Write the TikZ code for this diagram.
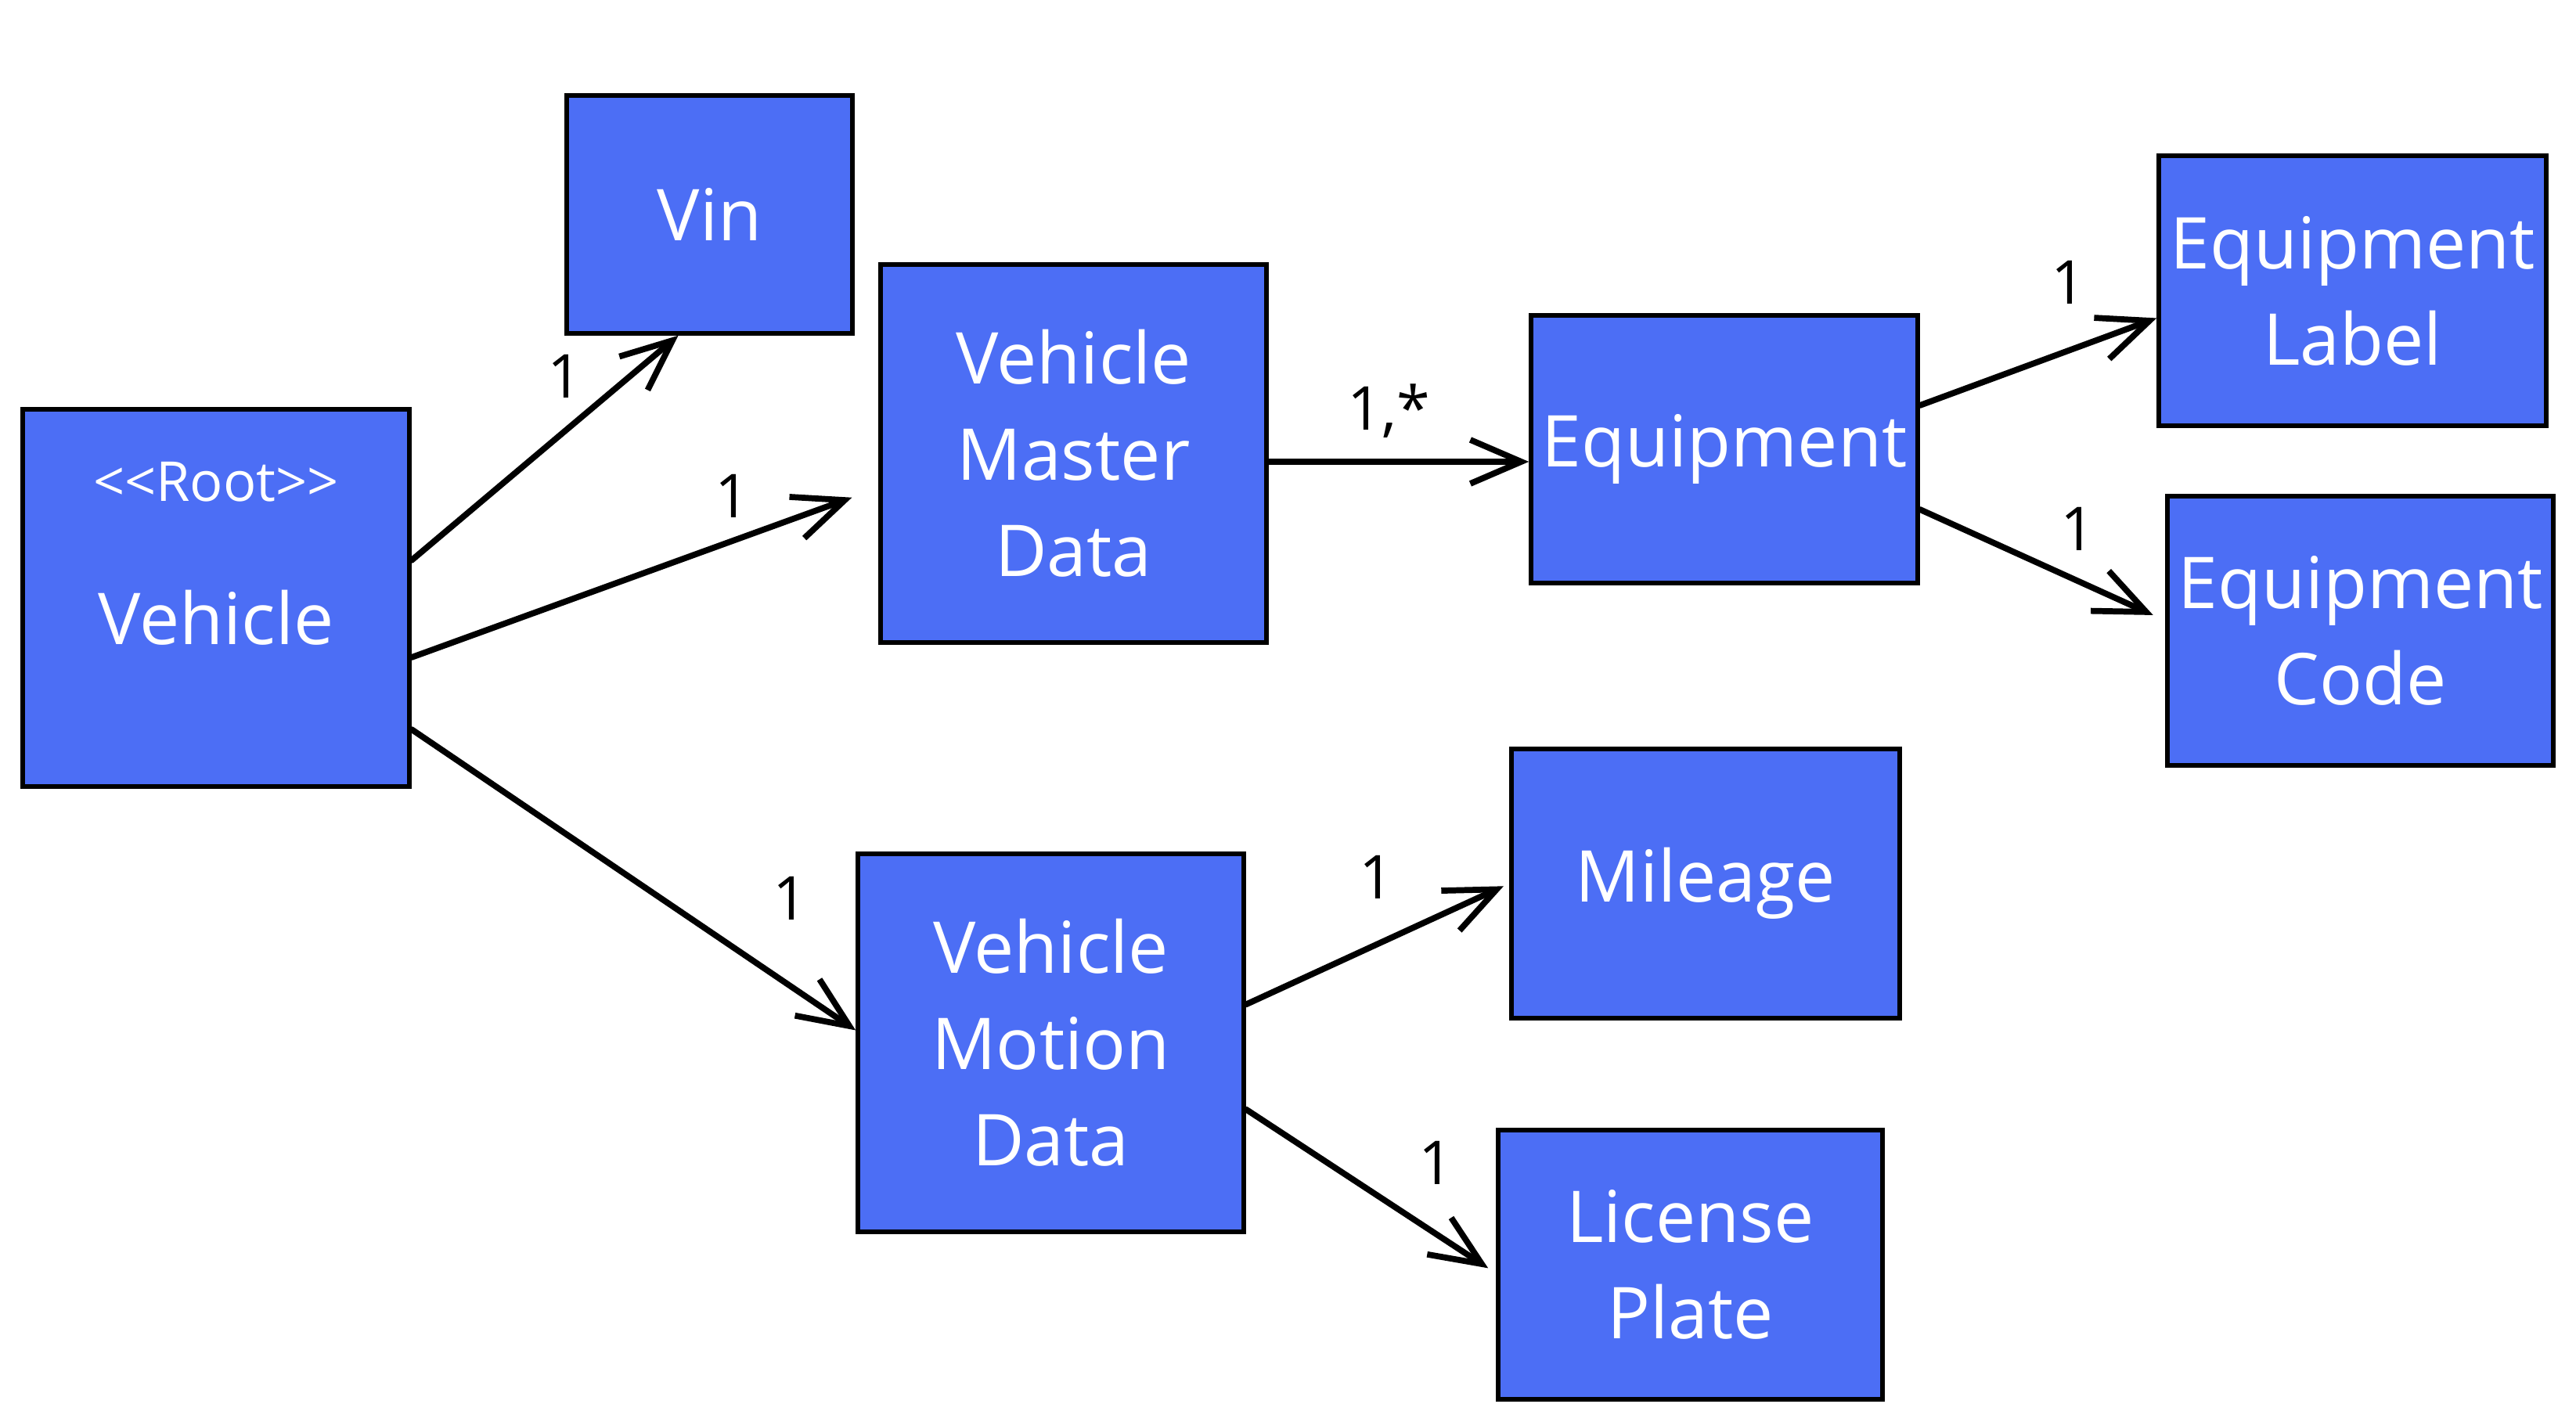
\documentclass[tikz,border=0pt]{standalone}
\usepackage{fontspec}
\setmainfont{Open Sans}
\usetikzlibrary{arrows.meta}
\definecolor{boxblue}{HTML}{4C6EF5}
\tikzset{
  box/.style={draw=black, line width=1.6pt, fill=boxblue, text=white, align=center,
    inner sep=0pt, font=\fontsize{26}{35}\selectfont},
  lbl/.style={font=\fontsize{22}{26}\selectfont, text=black},
  link/.style={->, line width=2.2pt, line cap=round, line join=round}
}

\begin{document}
\begin{tikzpicture}[>={Straight Barb[length=6.5mm,width=5.6mm,line width=2.2pt]}]
  \useasboundingbox (0,0) rectangle (32.91,18.17);
  % boxes
  \node[box, minimum width=4.94cm, minimum height=4.82cm] (vehicle) at (2.76,10.53)
    {{\fontsize{20}{24}\selectfont <\kern0pt<Root>\kern0pt>}\\[6mm]Vehicle\rule[-11.5mm]{0pt}{0pt}};
  \node[box, minimum width=3.65cm, minimum height=3.04cm] (vin) at (9.065,15.43) {Vin};
  \node[box, minimum width=4.93cm, minimum height=4.83cm] (master) at (13.715,12.375)
    {Vehicle\\Master\\Data};
  \node[box, minimum width=4.94cm, minimum height=3.42cm] (equip) at (22.03,12.43) {Equipment};
  \node[box, minimum width=4.95cm, minimum height=3.45cm] (eqlabel) at (30.055,14.455)
    {Equipment\\Label};
  \node[box, minimum width=4.93cm, minimum height=3.44cm] (eqcode) at (30.155,10.11)
    {Equipment\\Code};
  \node[box, minimum width=4.96cm, minimum height=3.44cm] (mileage) at (21.79,6.88) {Mileage};
  \node[box, minimum width=4.93cm, minimum height=4.83cm] (motion) at (13.425,4.845)
    {Vehicle\\Motion\\Data};
  \node[box, minimum width=4.91cm, minimum height=3.44cm] (plate) at (21.595,2.01)
    {License\\Plate};

  % connectors
  \draw[link] ([yshift=4.8mm]vehicle.east) -- ([xshift=-4mm]vin.south);
  \draw[link, shorten >=3.6mm] ([yshift=-7.6mm]vehicle.east) -- ([yshift=-4.4mm]master.west);
  \draw[link] ([yshift=-16.8mm]vehicle.east) -- ([yshift=1.6mm]motion.west);
  \draw[link] ([yshift=-1.6mm]equip.west -| master.east) -- ([yshift=-1.6mm]equip.west);
  \draw[link] ([yshift=5.6mm]equip.east) -- ([yshift=-3.5mm]eqlabel.west);
  \draw[link, shorten >=1.7mm] ([yshift=-7.7mm]equip.east) -- ([yshift=1.3mm]eqcode.west);
  \draw[link, shorten >=0.8mm] ([yshift=4.9mm]motion.east) -- (mileage.west);
  \draw[link, shorten >=1.2mm] ([yshift=-8.5mm]motion.east) -- ([yshift=-1.1mm]plate.west);

  % multiplicities
  \foreach \x/\y [count=\i] in {7.22/13.36, 9.36/11.83, 10.10/6.69, 26.43/14.56,
                               26.55/11.41, 17.59/6.96, 18.35/3.31}
    \node[lbl] (one\i) at (\x,\y) {1};
  \node[lbl] (many) at (17.74,12.92) {1,*};
\end{tikzpicture}
\end{document}
